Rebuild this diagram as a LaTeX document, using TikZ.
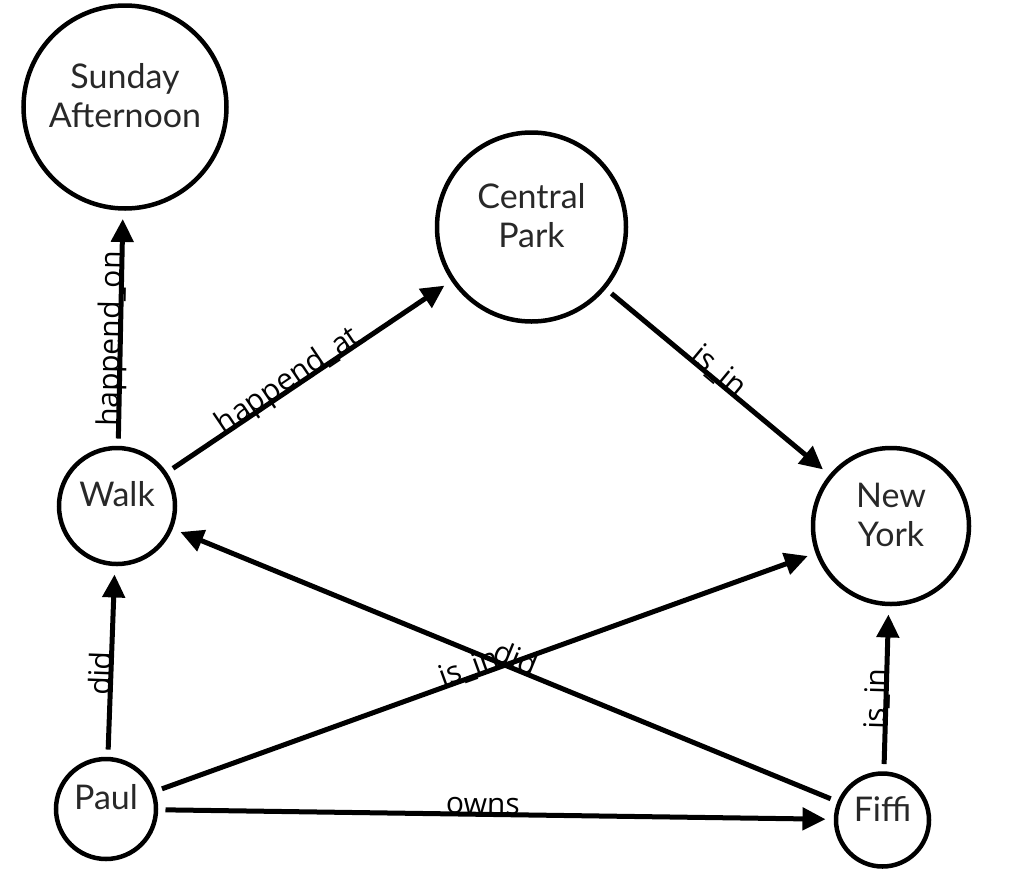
\documentclass[tikz,border=0pt]{standalone}
\usepackage{fontspec}
\setmainfont{Lato}
\newfontfamily\edgefont{Open Sans}
\usetikzlibrary{arrows.meta}
\definecolor{nodegray}{RGB}{40,40,40}
\begin{document}
\begin{tikzpicture}[x=1pt,y=-1pt,
  ent/.style={circle, draw=black, line width=4.5pt, inner sep=0pt, outer sep=9.5pt},
  nodetxt/.style={font=\fontsize{34}{39}\selectfont, text=nodegray, align=center, inner sep=0pt, yshift=11.5pt},
  rel/.style={line width=5pt, -{Triangle[length=23pt,width=22pt]}, shorten >=1pt},
  lbl/.style={font=\edgefont\fontsize{30}{36}\selectfont, sloped, anchor=base, inner sep=0pt}
]
\useasboundingbox (0,0) rectangle (1036,884);
\node[ent, minimum size=203pt, label={[nodetxt]center:Sunday\\Afternoon}] (sa) at (125,107) {};
\node[ent, minimum size=189pt, label={[nodetxt]center:Central\\Park}] (cp) at (531.5,227) {};
\node[ent, minimum size=116pt, label={[nodetxt]center:Walk}] (walk) at (117,506) {};
\node[ent, minimum size=156pt, label={[nodetxt]center:New\\York}] (ny) at (891,526) {};
\node[ent, minimum size=100pt, label={[nodetxt]center:Paul}] (paul) at (106,809) {};
\node[ent, minimum size=93pt, label={[nodetxt]center:Fiffi}] (fiffi) at (882.5,820) {};

\draw[rel] (walk) -- node[lbl, pos=0.45]{happend\_on} (sa);
\draw[rel] (walk) -- node[lbl, pos=0.44]{happend\_at} (cp);
\draw[rel] (cp) -- node[lbl, pos=0.48]{is\_in} (ny);
\draw[rel] (paul) -- node[lbl, pos=0.43]{did} (walk);
\draw[rel] (paul) -- node[lbl, pos=0.48]{is\_in} (ny);
\draw[rel] (fiffi) -- node[lbl, pos=0.49]{did} (walk);
\draw[rel] (paul) -- node[lbl, pos=0.48]{owns} (fiffi);
\draw[rel] (fiffi) -- node[lbl, pos=0.43]{is\_in} (ny);
\end{tikzpicture}
\end{document}
